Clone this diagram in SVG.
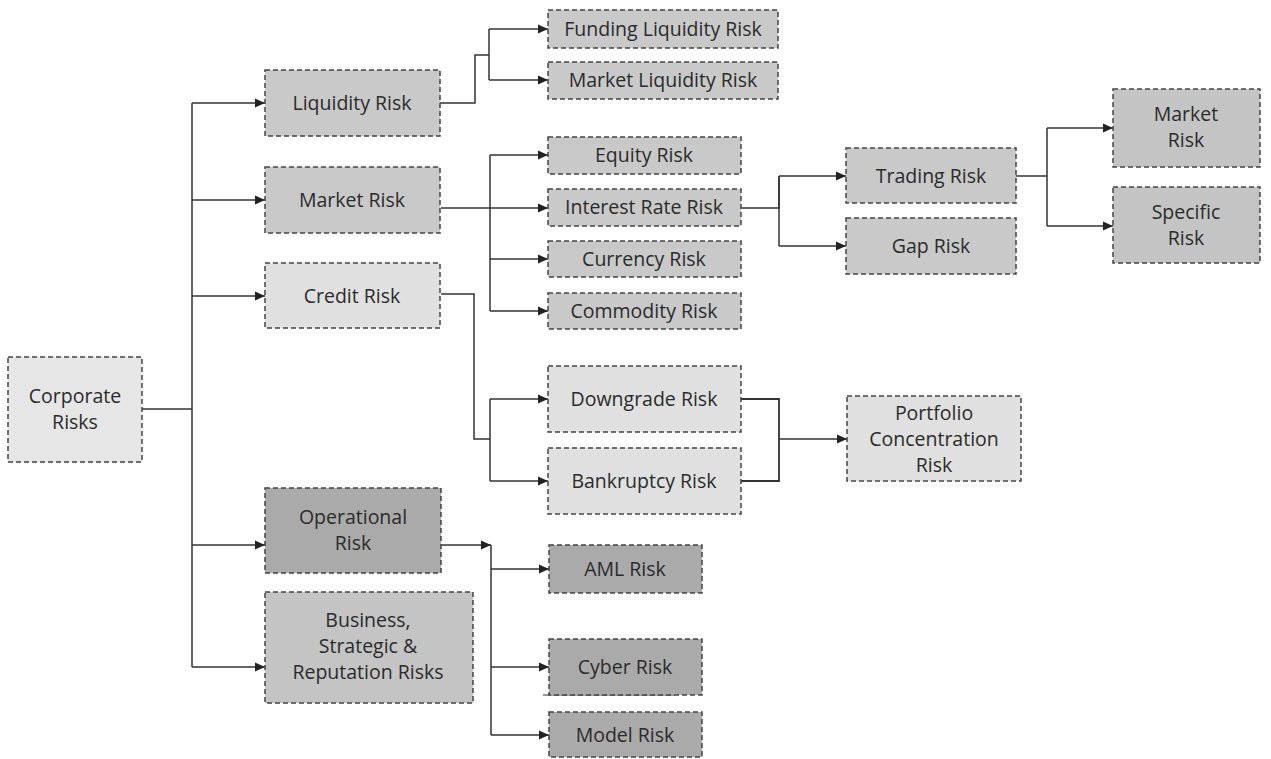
<svg xmlns="http://www.w3.org/2000/svg" width="1271" height="759" viewBox="0 0 1271 759">
<defs>
<marker id="arr" viewBox="0 0 10 10" refX="10" refY="5" markerWidth="10" markerHeight="10" markerUnits="userSpaceOnUse" orient="auto">
<path d="M0,0.5 L10,5 L0,9.5 z" fill="#222"/>
</marker>
</defs>
<style>
.box{stroke:#444;stroke-width:1.5;stroke-dasharray:5 3}
.l0{fill:#e6e6e6}
.l1{fill:#e0e0e0}
.m{fill:#c9c9c9}
.d{fill:#aaaaaa}
.b{fill:#c4c4c4}
text{font-family:"Open Sans","Noto Sans","Liberation Sans",sans-serif;font-size:19.5px;fill:#2b2b2b;text-anchor:middle}
.c{fill:none;stroke:#333;stroke-width:1.5}
</style>
<rect width="1271" height="759" fill="#ffffff"/>
<g id="connectors">
<path class="c" d="M142,409 H192"/>
<path class="c" d="M192,103 V667"/>
<path class="c" d="M192,103 H265" marker-end="url(#arr)"/>
<path class="c" d="M192,200 H265" marker-end="url(#arr)"/>
<path class="c" d="M192,296 H265" marker-end="url(#arr)"/>
<path class="c" d="M192,545 H265" marker-end="url(#arr)"/>
<path class="c" d="M192,667 H265" marker-end="url(#arr)"/>
<path class="c" d="M440,103 H475 V55 H489"/>
<path class="c" d="M489,29 V80"/>
<path class="c" d="M489,29 H548" marker-end="url(#arr)"/>
<path class="c" d="M489,80 H548" marker-end="url(#arr)"/>
<path class="c" d="M441,208 H548" marker-end="url(#arr)"/>
<path class="c" d="M490,155 V311"/>
<path class="c" d="M490,155 H548" marker-end="url(#arr)"/>
<path class="c" d="M490,259 H548" marker-end="url(#arr)"/>
<path class="c" d="M490,311 H548" marker-end="url(#arr)"/>
<path class="c" d="M741,208 H779 V176"/>
<path class="c" d="M779,176 V246"/>
<path class="c" d="M779,176 H846" marker-end="url(#arr)"/>
<path class="c" d="M779,246 H846" marker-end="url(#arr)"/>
<path class="c" d="M1016,176 H1047"/>
<path class="c" d="M1047,128 V226"/>
<path class="c" d="M1047,128 H1113" marker-end="url(#arr)"/>
<path class="c" d="M1047,226 H1113" marker-end="url(#arr)"/>
<path class="c" d="M441,294 H474 V439 H490"/>
<path class="c" d="M490,399 V481"/>
<path class="c" d="M490,399 H548" marker-end="url(#arr)"/>
<path class="c" d="M490,481 H548" marker-end="url(#arr)"/>
<path class="c" d="M741,399 H779 V481 H741" style="stroke-width:1.8"/>
<path class="c" d="M779,439 H847" marker-end="url(#arr)"/>
<path class="c" d="M441,545 H491" marker-end="url(#arr)"/>
<path class="c" d="M491,545 V735"/>
<path class="c" d="M491,569 H549" marker-end="url(#arr)"/>
<path class="c" d="M491,667 H549" marker-end="url(#arr)"/>
<path class="c" d="M491,735 H549" marker-end="url(#arr)"/>
<path class="c" d="M543,695 H675" style="stroke-width:1.2"/>
</g>
<g id="corporate"><rect class="box l0" x="8" y="357" width="134" height="105"/><text x="75" y="403">Corporate</text><text x="75" y="429">Risks</text></g>
<g id="liquidity"><rect class="box m" x="265" y="70" width="175" height="66"/><text x="352" y="110">Liquidity Risk</text></g>
<g id="market"><rect class="box m" x="265" y="167" width="175" height="66"/><text x="352" y="207">Market Risk</text></g>
<g id="credit"><rect class="box l1" x="265" y="263" width="175" height="65"/><text x="352" y="303">Credit Risk</text></g>
<g id="operational"><rect class="box d" x="265" y="488" width="176" height="85"/><text x="353" y="524">Operational</text><text x="353" y="550">Risk</text></g>
<g id="business"><rect class="box b" x="265" y="592" width="208" height="111"/><text x="368" y="627">Business,</text><text x="368" y="653">Strategic &amp;</text><text x="368" y="679">Reputation Risks</text></g>
<g id="funding"><rect class="box m" x="548" y="10" width="230" height="38"/><text x="663" y="36">Funding Liquidity Risk</text></g>
<g id="marketliq"><rect class="box m" x="548" y="62" width="230" height="37"/><text x="663" y="87">Market Liquidity Risk</text></g>
<g id="equity"><rect class="box m" x="548" y="137" width="193" height="37"/><text x="644" y="162">Equity Risk</text></g>
<g id="interest"><rect class="box m" x="548" y="189" width="193" height="37"/><text x="644" y="214">Interest Rate Risk</text></g>
<g id="currency"><rect class="box m" x="548" y="241" width="193" height="36"/><text x="644" y="266">Currency Risk</text></g>
<g id="commodity"><rect class="box m" x="548" y="293" width="193" height="36"/><text x="644" y="318">Commodity Risk</text></g>
<g id="trading"><rect class="box m" x="846" y="148" width="170" height="55"/><text x="931" y="183">Trading Risk</text></g>
<g id="gap"><rect class="box m" x="846" y="218" width="170" height="56"/><text x="931" y="253">Gap Risk</text></g>
<g id="marketrisk2"><rect class="box b" x="1113" y="89" width="147" height="78"/><text x="1186" y="121">Market</text><text x="1186" y="147">Risk</text></g>
<g id="specific"><rect class="box b" x="1113" y="187" width="147" height="76"/><text x="1186" y="219">Specific</text><text x="1186" y="245">Risk</text></g>
<g id="downgrade"><rect class="box l1" x="548" y="366" width="193" height="66"/><text x="644" y="406">Downgrade Risk</text></g>
<g id="bankruptcy"><rect class="box l1" x="548" y="448" width="193" height="66"/><text x="644" y="488">Bankruptcy Risk</text></g>
<g id="portfolio"><rect class="box l1" x="847" y="396" width="174" height="85"/><text x="934" y="420">Portfolio</text><text x="934" y="446">Concentration</text><text x="934" y="472">Risk</text></g>
<g id="aml"><rect class="box d" x="549" y="545" width="153" height="48"/><text x="625" y="576">AML Risk</text></g>
<g id="cyber"><rect class="box d" x="549" y="639" width="153" height="56"/><text x="625" y="674">Cyber Risk</text></g>
<g id="model"><rect class="box d" x="549" y="712" width="153" height="45"/><text x="625" y="742">Model Risk</text></g>
</svg>
